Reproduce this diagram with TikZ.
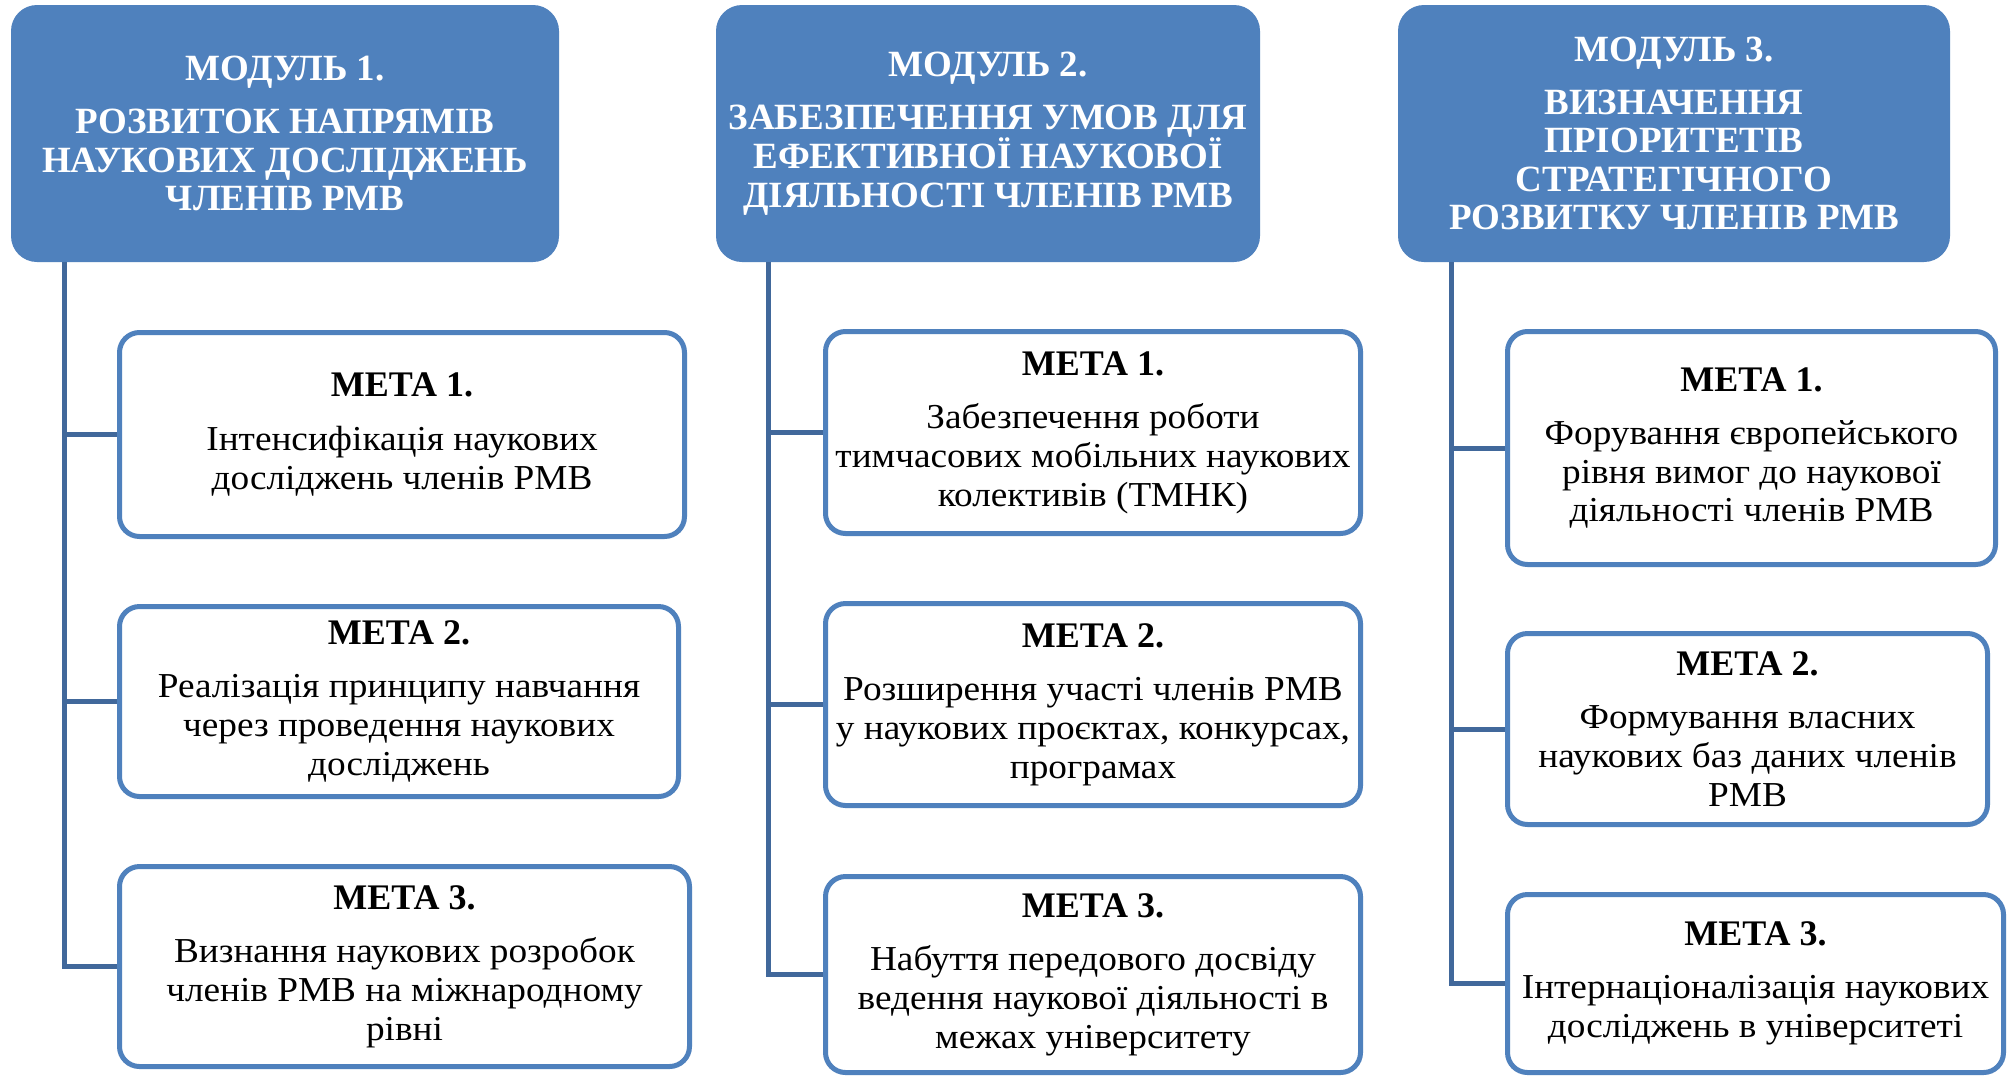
\documentclass[tikz,border=0pt]{standalone}
\usepackage{fontspec}
\setmainfont{Liberation Serif}
\newfontfamily\tnr{Liberation Serif}
\newfontfamily\tnrwide[FakeStretch=1.065]{Liberation Serif}
\definecolor{hdr}{HTML}{4F81BD}
\definecolor{bdr}{HTML}{4F81BD}
\definecolor{lin}{HTML}{41689B}
\newcommand\hdrfont{\tnr\fontsize{37}{38.5}\selectfont\bfseries}
\newcommand\bodyfont{\tnrwide\fontsize{35}{38.8}\selectfont}
\newcommand\metafont{\tnr\fontsize{36}{38.8}\selectfont\bfseries}
\newcommand\mt[1]{{\metafont МЕТА #1.}\\[14.5pt]}
\tikzset{
  modbox/.style={rectangle, rounded corners=26pt, fill=hdr, draw=none, text=white,
    font=\hdrfont, align=center, inner sep=0pt},
  goalbox/.style={rectangle, rounded corners=20pt, draw=bdr, line width=5pt, fill=white,
    align=center, inner sep=0pt, font=\bodyfont},
  conn/.style={draw=lin, line width=5pt}
}
\begin{document}
\begin{tikzpicture}[x=1pt,y=-1pt]
\useasboundingbox[fill=white] (0,0) rectangle (2013,1077);
% modules
\node[modbox, minimum width=548pt, minimum height=257pt] (m1) at (285,133.5)
  {МОДУЛЬ 1.\\[14.5pt]РОЗВИТОК НАПРЯМІВ\\НАУКОВИХ ДОСЛІДЖЕНЬ\\ЧЛЕНІВ РМВ};
\node[modbox, minimum width=544pt, minimum height=257pt] (m2) at (988,133.5)
  {МОДУЛЬ 2.\\[14.5pt]ЗАБЕЗПЕЧЕННЯ УМОВ ДЛЯ\\ЕФЕКТИВНОЇ НАУКОВОЇ\\ДІЯЛЬНОСТІ ЧЛЕНІВ РМВ};
\node[modbox, minimum width=552pt, minimum height=257pt] (m3) at (1674,133.5)
  {МОДУЛЬ 3.\\[14.5pt]ВИЗНАЧЕННЯ\\ПРІОРИТЕТІВ\\СТРАТЕГІЧНОГО\\РОЗВИТКУ ЧЛЕНІВ РМВ};
% goals column 1
\node[goalbox, minimum width=565pt, minimum height=204pt] (g11) at (402,434.5)
  {\mt{1}Інтенсифікація наукових\\досліджень членів РМВ};
\node[goalbox, minimum width=559pt, minimum height=190pt] (g12) at (399,701.5)
  {\mt{2}Реалізація принципу навчання\\через проведення наукових\\досліджень};
\node[goalbox, minimum width=570pt, minimum height=200pt] (g13) at (404.5,966.5)
  {\mt{3}Визнання наукових розробок\\членів РМВ на міжнародному\\рівні};
% goals column 2
\node[goalbox, minimum width=535pt, minimum height=202pt] (g21) at (1093,432.5)
  {\mt{1}Забезпечення роботи\\тимчасових мобільних наукових\\колективів (ТМНК)};
\node[goalbox, minimum width=535pt, minimum height=202pt] (g22) at (1093,704.5)
  {\mt{2}Розширення участі членів РМВ\\у наукових проєктах, конкурсах,\\програмах};
\node[goalbox, minimum width=535pt, minimum height=196pt] (g23) at (1093,974.5)
  {\mt{3}Набуття передового досвіду\\ведення наукової діяльності в\\межах університету};
% goals column 3
\node[goalbox, minimum width=488pt, minimum height=233pt] (g31) at (1751.5,448)
  {\mt{1}Форування європейського\\рівня вимог до наукової\\діяльності членів РМВ};
\node[goalbox, minimum width=480pt, minimum height=191pt] (g32) at (1747.5,729)
  {\mt{2}Формування власних\\наукових баз даних членів\\РМВ};
\node[goalbox, minimum width=496pt, minimum height=178pt] (g33) at (1755.5,983.5)
  {\mt{3}Інтернаціоналізація наукових\\досліджень в університеті};
% connectors
\coordinate (v1) at (64,262);
\coordinate (v2) at (768,262);
\coordinate (v3) at (1451,262);
\draw[conn] (v1) |- (g13.west);
\draw[conn] (v1 |- g11.west) -- (g11.west);
\draw[conn] (v1 |- g12.west) -- (g12.west);
\draw[conn] (v2) |- (g23.west);
\draw[conn] (v2 |- g21.west) -- (g21.west);
\draw[conn] (v2 |- g22.west) -- (g22.west);
\draw[conn] (v3) |- (g33.west);
\draw[conn] (v3 |- g31.west) -- (g31.west);
\draw[conn] (v3 |- g32.west) -- (g32.west);
\end{tikzpicture}
\end{document}
